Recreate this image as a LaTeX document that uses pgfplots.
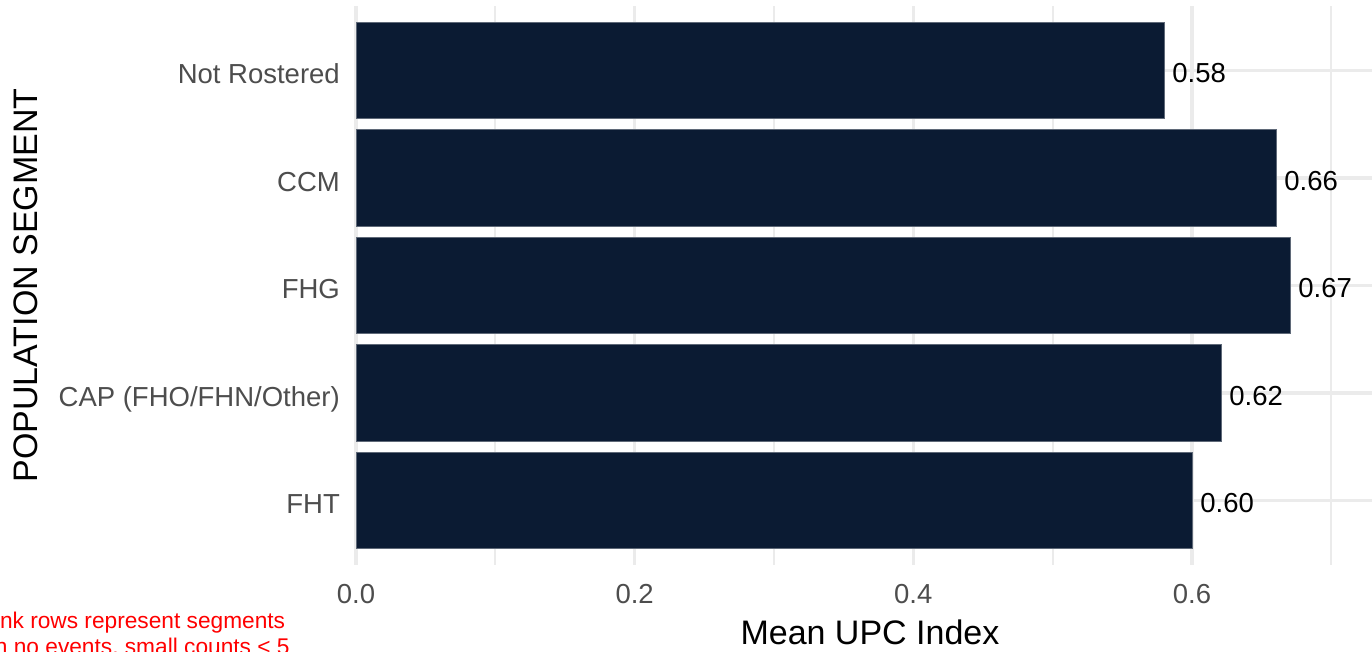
\documentclass[border=0pt]{standalone}
\usepackage{fontspec}
\setmainfont{Liberation Sans}
\usepackage{pgfplots}
\pgfplotsset{compat=1.18}

\definecolor{barnavy}{RGB}{11,27,51}
\definecolor{baredge}{RGB}{95,105,120}
\definecolor{gridgray}{RGB}{235,235,235}
\definecolor{ticktext}{RGB}{77,77,77}

\begin{document}
\begin{tikzpicture}
    \begin{axis}[
        at={(356pt,-565pt)}, anchor=south west,
        scale only axis,
        width=1016pt, height=559pt,
        xmin=0, xmax=0.7292,
        ymin=-0.6, ymax=4.6,
        xbar, bar width=0.9,
        axis line style={draw=none},
        major tick length=0pt, minor tick length=0pt,
        xtick={0,0.2,0.4,0.6},
        xticklabels={0.0,0.2,0.4,0.6},
        minor xtick={0.1,0.3,0.5,0.7},
        ytick={0,1,2,3,4},
        yticklabels={FHT,CAP (FHO/FHN/Other),FHG,CCM,Not Rostered},
        xmajorgrids=true, xminorgrids=true, ymajorgrids=true,
        major grid style={draw=gridgray, line width=3.5pt},
        minor grid style={draw=gridgray, line width=2pt},
        xticklabel style={anchor=base, inner sep=0pt, yshift=-38pt,
            text=ticktext, font=\fontsize{27.5}{33}\selectfont},
        yticklabel style={anchor=base east, inner sep=0pt, xshift=-16pt, yshift=-13pt,
            text=ticktext, font=\fontsize{27.5}{33}\selectfont},
        xlabel={Mean UPC Index},
        xlabel style={at={([xshift=6pt,yshift=-79pt]axis description cs:0.5,0)}, anchor=base,
            inner sep=0pt, font=\fontsize{34}{40}\selectfont},
        ylabel={POPULATION SEGMENT},
        ylabel style={at={([xshift=-318pt]axis description cs:0,0.5)}, rotate=0, anchor=base,
            inner sep=0pt, font=\fontsize{34}{40}\selectfont},
        point meta=x,
        nodes near coords,
        every node near coord/.append style={anchor=base west, inner sep=0pt,
            xshift=8pt, yshift=-12pt, text=black, font=\fontsize{27.5}{33}\selectfont},
        /pgf/number format/fixed,
        /pgf/number format/fixed zerofill,
        /pgf/number format/precision=2,
        /pgf/number format/assume math mode=true,
    ]
        \addplot[fill=barnavy, draw=baredge, line width=0.8pt]
        coordinates {
            (0.6000,0)
            (0.6208,1)
            (0.6703,2)
            (0.6603,3)
            (0.5799,4)
        };
    \end{axis}
    % caption at the bottom left, cut off by the picture's edge as in the reference
    \begin{scope}
        \clip (0pt,-651pt) rectangle (1372pt,0pt);
        \node[anchor=base west, inner sep=0pt, text=red, font=\fontsize{22.7}{26}\selectfont]
            at (-33pt,-628pt) {Blank rows represent segments};
        \node[anchor=base west, inner sep=0pt, text=red, font=\fontsize{22.7}{26}\selectfont]
            at (-33pt,-654pt) {with no events, small counts < 5};
    \end{scope}
    \pgfresetboundingbox
    \path[use as bounding box] (0pt,-651pt) rectangle (1372pt,0pt);
\end{tikzpicture}
\end{document}
